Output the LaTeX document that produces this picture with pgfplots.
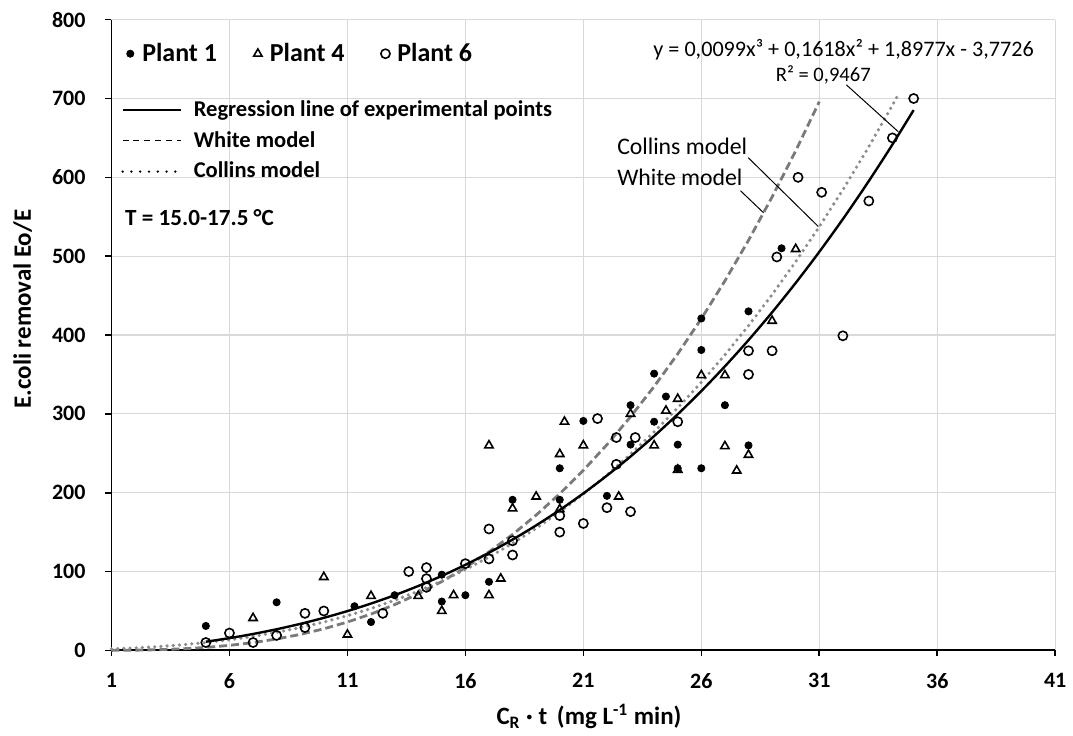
\documentclass[border=0pt]{standalone}
\usepackage{pgfplots}
\pgfplotsset{compat=1.18}
\usepackage{fontspec}
\setmainfont{Carlito}

\pgfplotstableread{
x y
5 31
8 61
11.3 56
12 36
13 70
15 96
15 62
16 70
17 87
18 191
20 231
20 191
21 291
22 196
23 311
23 261
24 351
24 290
24.5 322
25 261
25 231
26 421
26 381
26 231
27 311
28 430
28 260
29.4 510
}\plantA

\pgfplotstableread{
x y
7 41
10 93
11 20
12 69
14 69
15 50
15.5 70
17 70
17 260
17.5 91
18 180
19 195
20 249
20 179
20.2 290
21 260
22.5 195
23 300
24 260
24.5 304
25 319
25 229
26 349
27 349
27 259
27.5 228
28 248
29 418
30 509
}\plantD

\pgfplotstableread{
x y
5 10
6 22
7 10
8 19
9.2 29
9.2 47
10 50
12.5 47
13.6 100
14.35 105
14.35 91
14.35 80
16 110
17 154
17 116
18 139
18 121
20 171
20 150
21 161
21.6 294
22 181
22.4 270
22.4 236
23 176
23.2 270
25 290
28 380
28 350
29 380
29.2 499
30.1 600
31.1 581
32 399
33.1 570
34.1 650
35 700
}\plantF

\pgfplotstableread{
x y
5 11.00
6 15.58
7 20.84
8 26.83
9 33.63
10 41.28
11 49.86
12 59.41
13 69.99
14 81.67
15 94.51
16 108.56
17 123.89
18 140.55
19 158.60
20 178.10
21 199.12
22 221.70
23 245.92
24 271.83
25 299.48
26 328.95
27 360.28
28 393.54
29 428.79
30 466.08
31 505.48
32 547.04
33 590.83
34 636.90
35 685.31
}\regr

\pgfplotstableread{
x y
1 0.04
2 0.27
3 0.88
4 1.99
5 3.77
6 6.36
7 9.88
8 14.47
9 20.26
10 27.38
11 35.96
12 46.1
13 58.0
14 71.7
15 87.3
16 105.0
17 124.9
18 147.0
19 171.6
20 198.7
21 228.4
22 260.9
23 296.3
24 334.7
25 376.1
26 420.7
27 468.7
28 520.1
29 575.1
30 633.6
31 695.9
}\white

\pgfplotstableread{
x y
1 1.86
2 3.11
3 4.83
4 7.08
5 9.94
6 13.48
7 17.78
8 22.91
9 28.93
10 35.94
11 43.99
12 53.16
13 63.52
14 75.15
15 88.12
16 102.50
17 118.37
18 135.80
19 154.85
20 175.62
21 198.16
22 222.55
23 248.86
24 277.17
25 307.55
26 340.07
27 374.81
28 411.83
29 451.22
30 493.04
31 537.37
32 584.28
33 633.84
34 686.13
34.4 707.8
}\collins

\definecolor{dashgray}{HTML}{7A7A7A}
\definecolor{dotgray}{HTML}{8C8C8C}

\begin{document}
\begin{tikzpicture}
\begin{axis}[
  scale only axis, width=472.8pt, height=316pt,
  xmin=1, xmax=41, ymin=0, ymax=800,
  xtick={1,6,...,41}, ytick={0,100,...,800},
  axis x line=bottom, axis y line=left,
  axis line style={-, line width=0.9pt},
  grid=major, grid style={color=black!15, line width=0.6pt},
  tick align=outside, major tick length=3pt,
  tick style={black, line width=0.8pt},
  /pgf/number format/assume math mode=true,
  ticklabel style={font=\fontsize{11}{13}\selectfont\bfseries},
  yticklabel style={xshift=-6.5pt},
  xticklabel style={yshift=-5pt},
  xlabel={C\textsubscript{R} · t\, (mg L\textsuperscript{-1} min)},
  ylabel={E.coli removal Eo/E},
  xlabel style={font=\fontsize{12.5}{14}\selectfont\bfseries, at={(axis description cs:0.506,-0.105)}, anchor=center},
  ylabel style={font=\fontsize{12.5}{14}\selectfont\bfseries, at={(axis description cs:-0.094,0.541)}, anchor=center},
  legend columns=3,
  legend style={draw=none, fill=none, at={(axis description cs:0.0068,0.946)}, anchor=west,
    font=\fontsize{13}{15}\selectfont\bfseries,
    /tikz/every even column/.append style={column sep=15.5pt}},
  legend image code/.code={\path[draw=none,fill=none] (0pt,0pt) -- (7pt,0pt);\draw[mark repeat=2,mark phase=2,#1] plot coordinates {(0pt,0pt) (3pt,0pt) (6pt,0pt)};},
  clip=false,
]
\addplot[dashgray, line width=1.4pt, dash pattern=on 4pt off 2pt, forget plot] table {\white};
\addplot[dotgray, line width=1.8pt, line cap=round, dash pattern=on 0pt off 3.1pt, forget plot] table {\collins};
\addplot[black, line width=1.2pt, smooth, forget plot] table {\regr};

\addplot[only marks, mark=*, mark size=1.8pt, black] table {\plantA};
\addlegendentry{Plant 1}
\addplot[only marks, mark=triangle, mark size=2.4pt, black, mark options={line width=0.8pt}] table {\plantD};
\addlegendentry{Plant 4}
\addplot[only marks, mark=o, mark size=2.3pt, black, mark options={line width=0.8pt}] table {\plantF};
\addlegendentry{Plant 6}

\node[anchor=west, inner sep=0pt, font=\fontsize{11.6}{13}\selectfont\bfseries] at (axis cs:1.563,549) {T = 15.0-17.5 °C};
\node[font=\fontsize{11.1}{13}\selectfont] at (axis cs:32.03,761.6) {y = 0,0099x³ + 0,1618x² + 1,8977x - 3,7726};
\node[font=\fontsize{10.3}{12}\selectfont] at (axis cs:31.17,730) {R² = 0,9467};
\node[anchor=west, inner sep=0pt, font=\fontsize{11.9}{13}\selectfont] at (axis cs:22.42,639.2) {Collins model};
\node[anchor=west, inner sep=0pt, font=\fontsize{11.9}{13}\selectfont] at (axis cs:22.42,600.5) {White model};
\draw[line width=0.5pt] (axis cs:27.99,624.9) -- (axis cs:30.96,537.6);
\draw[line width=0.5pt] (axis cs:27.66,583) -- (axis cs:28.64,555);
\draw[line width=0.5pt] (axis cs:32.15,717.3) -- (axis cs:34.35,657.8);
\end{axis}

\begin{axis}[
  scale only axis, width=472.8pt, height=316pt,
  xmin=1, xmax=41, ymin=0, ymax=800, hide axis,
  legend cell align=left,
  legend style={draw=none, fill=none, at={(axis description cs:0.0037,0.885)}, anchor=north west,
    font=\fontsize{11.3}{13}\selectfont\bfseries, row sep=2pt,
    /tikz/every odd column/.append style={column sep=4pt}},
  legend image code/.code={\draw[#1] (0pt,0pt) -- (29pt,0pt);},
]
\addplot[draw=none, forget plot] coordinates {(1,0)};
\addlegendimage{black, line width=1.2pt}
\addlegendentry{Regression line of experimental points}
\addlegendimage{black, line width=0.7pt, dash pattern=on 3pt off 2.4pt}
\addlegendentry{White model}
\addlegendimage{black, line width=1.3pt, line cap=round, dash pattern=on 0pt off 4.4pt}
\addlegendentry{Collins model}
\end{axis}
\path ([shift={(-55.85pt,-39.15pt)}]current axis.south west) rectangle ([shift={(7.85pt,9.85pt)}]current axis.north east);
\end{tikzpicture}
\end{document}
